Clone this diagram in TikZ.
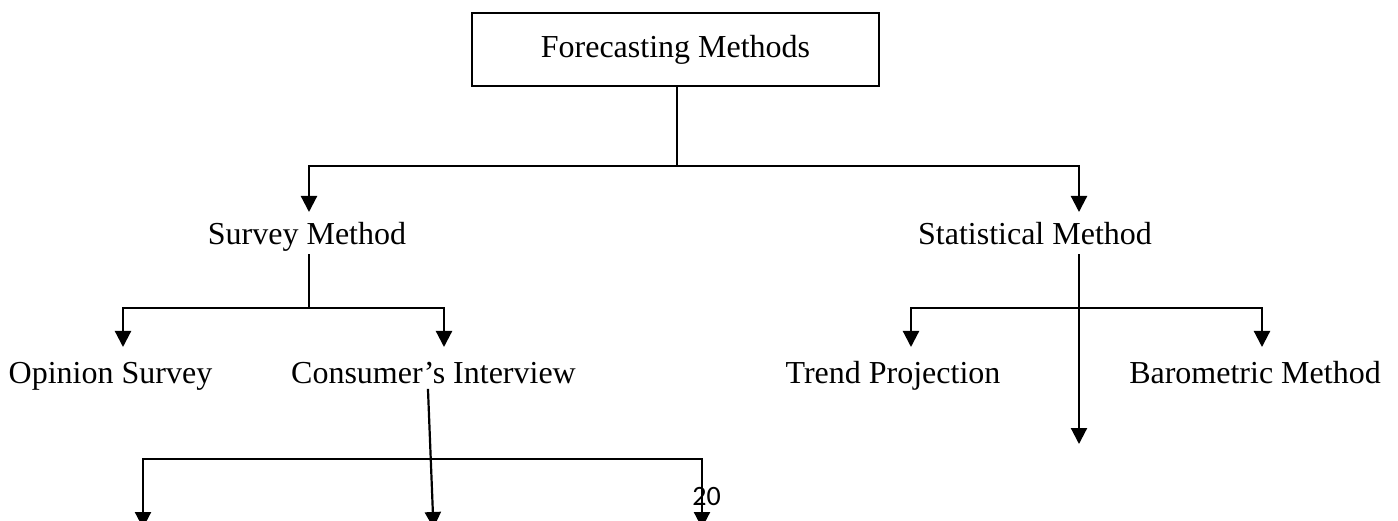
\documentclass[tikz,border=0pt]{standalone}
\usepackage{fontspec}
\setmainfont{Liberation Serif}
\newfontfamily\pagenumfont{Carlito}
\usetikzlibrary{arrows.meta}
\begin{document}
\begin{tikzpicture}[x=1pt,y=-1pt,
  conn/.style={line width=2.2pt, line cap=rect},
  arr/.style={conn, -{Triangle[width=16pt,length=16pt]}},
  lbl/.style={font=\fontsize{32}{38}\selectfont, inner sep=0pt, anchor=base},
  titlebox/.style={draw, line width=1.6pt, minimum width=407pt, minimum height=73pt, inner sep=0pt, font=\fontsize{32}{38}\selectfont}]
\useasboundingbox (0,0) rectangle (1398,521);
% nodes
\node[titlebox] (fm) at (675.5,49.5) {Forecasting Methods};
\node[lbl] (sm) at (307,245) {Survey Method};
\node[lbl] (stm) at (1035,245) {Statistical Method};
\node[lbl] (os) at (110.5,383) {Opinion Survey};
\node[lbl] (ci) at (433.5,383) {Consumer’s Interview};
\node[lbl] (tp) at (893,383) {Trend Projection};
\node[lbl] (bm) at (1255,383) {Barometric Method};
\node[inner sep=0pt, anchor=base, font=\pagenumfont\fontsize{28}{30}\selectfont] (pg) at (706.5,505) {20};
% junctions and tips
\coordinate (j1) at (677,166);
\coordinate (smtip) at (309,212);
\coordinate (stmtip) at (1079,212);
\coordinate (j2) at (309,308);
\coordinate (ostip) at (123,347);
\coordinate (citip) at (444,347);
\coordinate (j3) at (1079,308);
\coordinate (tptip) at (911,347);
\coordinate (bmtip) at (1262,347);
\coordinate (stdown) at (1079,444);
\coordinate (cistart) at (428,390);
\coordinate (citip2) at (433.5,528);
\coordinate (bl) at (143,459);
\coordinate (br) at (702,459);
\coordinate (bltip) at (143,528);
\coordinate (brtip) at (702,528);
% connectors
\draw[conn] (fm.south -| j1) -- (j1);
\draw[arr] (j1) -| (smtip);
\draw[arr] (j1) -| (stmtip);
\draw[conn] ([yshift=-10pt]sm.base -| j2) -- (j2);
\draw[arr] (j2) -| (ostip);
\draw[arr] (j2) -| (citip);
\draw[conn] ([yshift=-10pt]stm.base -| j3) -- (j3);
\draw[arr] (j3) -- (stdown);
\draw[arr] (j3) -| (tptip);
\draw[arr] (j3) -| (bmtip);
\draw[arr] (cistart) -- (citip2);
\draw[conn] (bl) -- (br);
\draw[arr] (bl) -- (bltip);
\draw[arr] (br) -- (brtip);
\end{tikzpicture}
\end{document}
